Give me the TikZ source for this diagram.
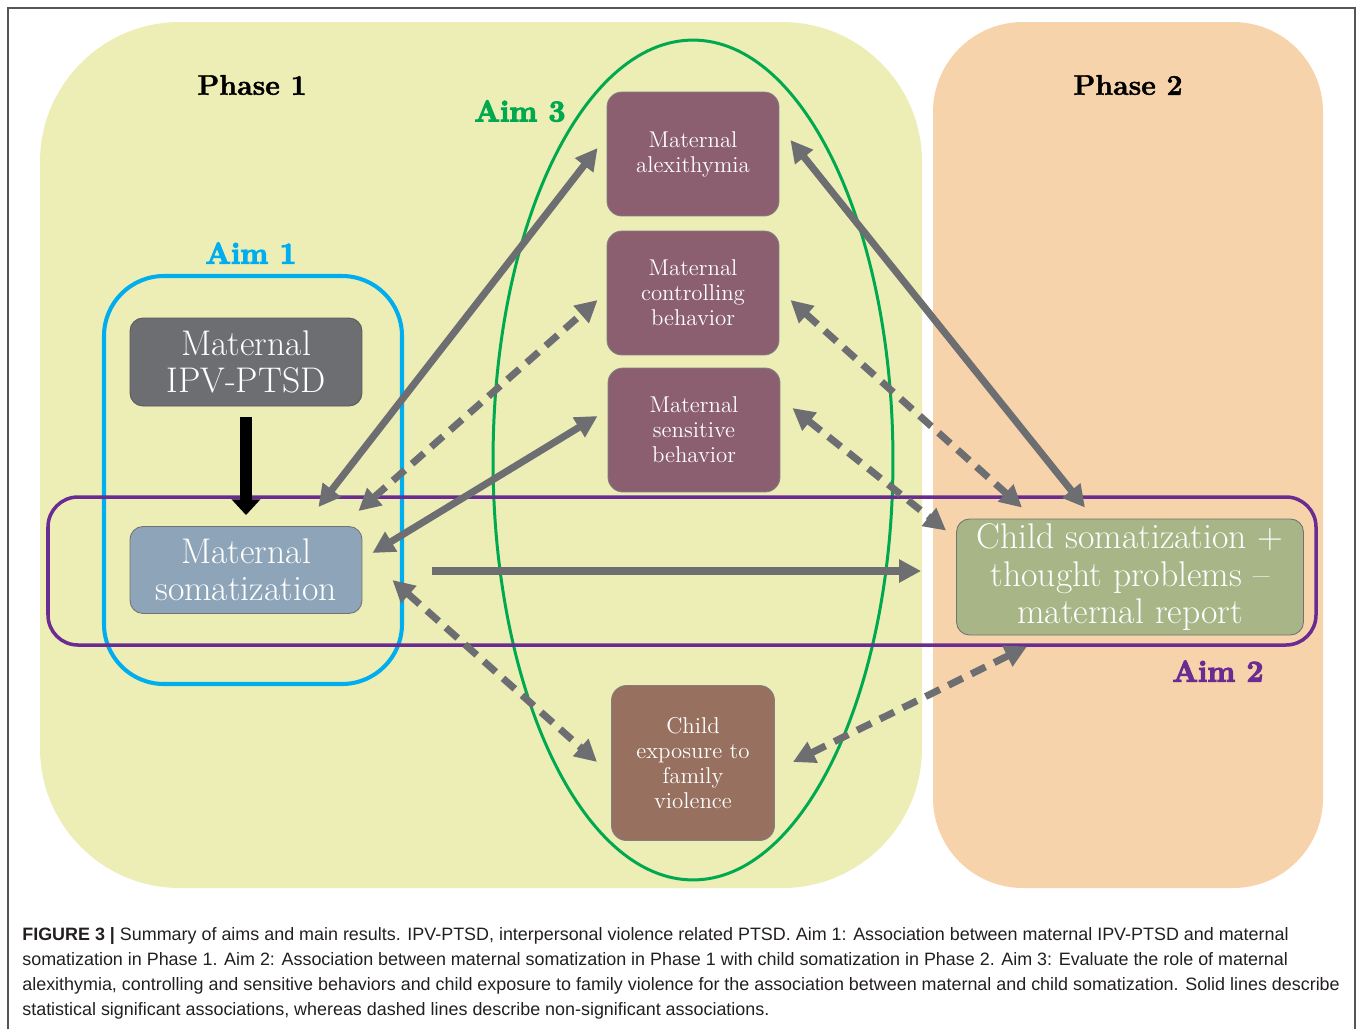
\documentclass[tikz,border=0pt]{standalone}
\usepackage{fontspec}
\newfontfamily\capfont{Liberation Sans}
\usetikzlibrary{arrows.meta,positioning}

\definecolor{phaseone}{HTML}{EDEDB6}
\definecolor{phasetwo}{HTML}{F7D3AB}
\definecolor{aimone}{HTML}{00AEEF}
\definecolor{aimtwo}{HTML}{6A2C91}
\definecolor{aimthree}{HTML}{00A94F}
\definecolor{linkgray}{HTML}{6D6E71}
\definecolor{ptsdfill}{HTML}{6D6E71}
\definecolor{somfill}{HTML}{8EA5B9}
\definecolor{mauvefill}{HTML}{8B5F70}
\definecolor{brownfill}{HTML}{97705F}
\definecolor{olivefill}{HTML}{A7B587}
\definecolor{framegray}{HTML}{555555}
\definecolor{captext}{HTML}{231F20}

% heavier strokes for the aim labels
\newcommand\heavytext[2]{\special{pdf:literal direct 2 Tr #1 w}#2\special{pdf:literal direct 0 Tr}}

\tikzset{
  phasetitle/.style={font=\fontsize{16.2}{18}\selectfont\bfseries},
  aimlabel/.style={font=\fontsize{17}{20}\selectfont\bfseries},
  bigbox/.style={draw=black!55, line width=0.5pt, rounded corners=0.26cm,
    text=white, align=center, inner sep=0pt,
    font=\fontsize{20.3}{21.3}\selectfont},
  smallbox/.style={draw=black!50, line width=0.5pt, rounded corners=0.3cm,
    text=white, align=center, inner sep=0pt, fill=mauvefill,
    minimum width=3.44cm, minimum height=2.48cm,
    font=\fontsize{13}{14.2}\selectfont},
  link/.style={draw=linkgray, line width=4pt,
    {Triangle[length=12.5pt,width=12.5pt]}-{Triangle[length=12.5pt,width=12.5pt]}},
  onelink/.style={draw=linkgray, line width=4pt, -{Triangle[length=12.5pt,width=12.5pt]}},
  nslink/.style={link, dash pattern=on 9pt off 5.5pt},
}

\begin{document}
\begin{tikzpicture}[x=0.02cm,y=-0.02cm]
  \useasboundingbox[fill=white] (0,0) rectangle (1360,1029);
  % frame
  \draw[framegray, line width=0.8pt] (8,1029) -- (8,8) -- (1355,8) -- (1355,1029);

  % Phases
  \fill[phaseone, rounded corners=2.8cm] (40,22) rectangle (922,888);
  \fill[phasetwo, rounded corners=1.8cm] (933,22) rectangle (1323,888);
  \node[phasetitle] (ph1) at (252,85) {\heavytext{0.25}{Phase 1}};
  \node[phasetitle] (ph2) at (1128,85) {\heavytext{0.25}{Phase 2}};

  % Aims
  \draw[aimthree, line width=1.7pt] (693,460) ellipse [x radius=4cm, y radius=8.4cm];
  \draw[aimone, line width=2.3pt, rounded corners=1.2cm] (104,276) rectangle (402,684);
  \draw[aimtwo, line width=2pt, rounded corners=0.6cm] (48,497) rectangle (1316,645);
  \node[aimlabel, text=aimthree] (aim3) at (520,111) {\heavytext{0.7}{Aim 3}};
  \node[aimlabel, text=aimone] (aim1) at (251,253) {\heavytext{0.7}{Aim 1}};
  \node[aimlabel, text=aimtwo] (aim2) at (1218,671) {\heavytext{0.7}{Aim 2}};

  % Boxes
  \node[bigbox, fill=ptsdfill, draw=black!65, minimum width=4.64cm, minimum height=1.76cm]
    (mptsd) at (246,362) {Maternal\\IPV-PTSD};
  \node[bigbox, fill=somfill, minimum width=4.64cm, minimum height=1.74cm]
    (msom) at (246,570) {Maternal\\somatization};
  \node[smallbox] (malex) at (693,154) {Maternal\\alexithymia};
  \node[smallbox] (mctrl) at (693,293) {Maternal\\controlling\\behavior};
  \node[smallbox] (msens) at (694,430) {Maternal\\sensitive\\behavior};
  \node[smallbox, fill=brownfill, minimum width=3.26cm, minimum height=3.1cm]
    (cexp) at (693,763) {Child\\exposure to\\family\\violence};
  \node[bigbox, fill=olivefill, minimum width=6.94cm, minimum height=2.32cm]
    (csom) at (1130,577) {Child somatization +\\thought problems --\\maternal report};

  % Aim 1 path
  \draw[black, line width=7pt, -{Triangle[length=9pt,width=16pt]}]
    ([shift={(0,11)}]mptsd.south) -- ([shift={(0,-11)}]msom.north);

  % Links to mediators
  \draw[link] ([shift={(-44,-19)}]msom.north east) -- ([shift={(-9,-6)}]malex.west);
  \draw[nslink] ([shift={(-4,-15)}]msom.north east) -- ([shift={(-9,7)}]mctrl.west);
  \draw[link] ([shift={(10,-17)}]msom.east) -- ([shift={(-10,-14)}]msens.west);
  \draw[nslink] ([shift={(30,10)}]msom.east) -- ([shift={(-14,-1)}]cexp.west);
  \draw[onelink] ([shift={(70,1)}]msom.east) -- ([shift={(-35,-6)}]csom.west);
  \draw[link] ([shift={(11,-14)}]malex.east) -- ([shift={(-45,-11)}]csom.north);
  \draw[nslink] ([shift={(11,7)}]mctrl.east) -- ([shift={(-108,-11)}]csom.north);
  \draw[nslink] ([shift={(12,-22)}]msens.east) -- ([shift={(-10,12)}]csom.north west);
  \draw[nslink] ([shift={(18,-1)}]cexp.east) -- ([shift={(-103,11)}]csom.south);

  % Caption
  \node[anchor=north west, inner sep=0pt, align=left, text=captext,
    font=\capfont\fontsize{10.2}{14.2}\selectfont] (cap) at (22,927)
    {{\bfseries FIGURE 3 |} Summary of aims and main results. IPV-PTSD, interpersonal violence related PTSD. Aim 1: Association between maternal IPV-PTSD and maternal\\
     somatization in Phase 1. Aim 2: Association between maternal somatization in Phase 1 with child somatization in Phase 2. Aim 3: Evaluate the role of maternal\\
     alexithymia, controlling and sensitive behaviors and child exposure to family violence for the association between maternal and child somatization. Solid lines describe\\
     statistical significant associations, whereas dashed lines describe non-significant associations.};
\end{tikzpicture}
\end{document}
